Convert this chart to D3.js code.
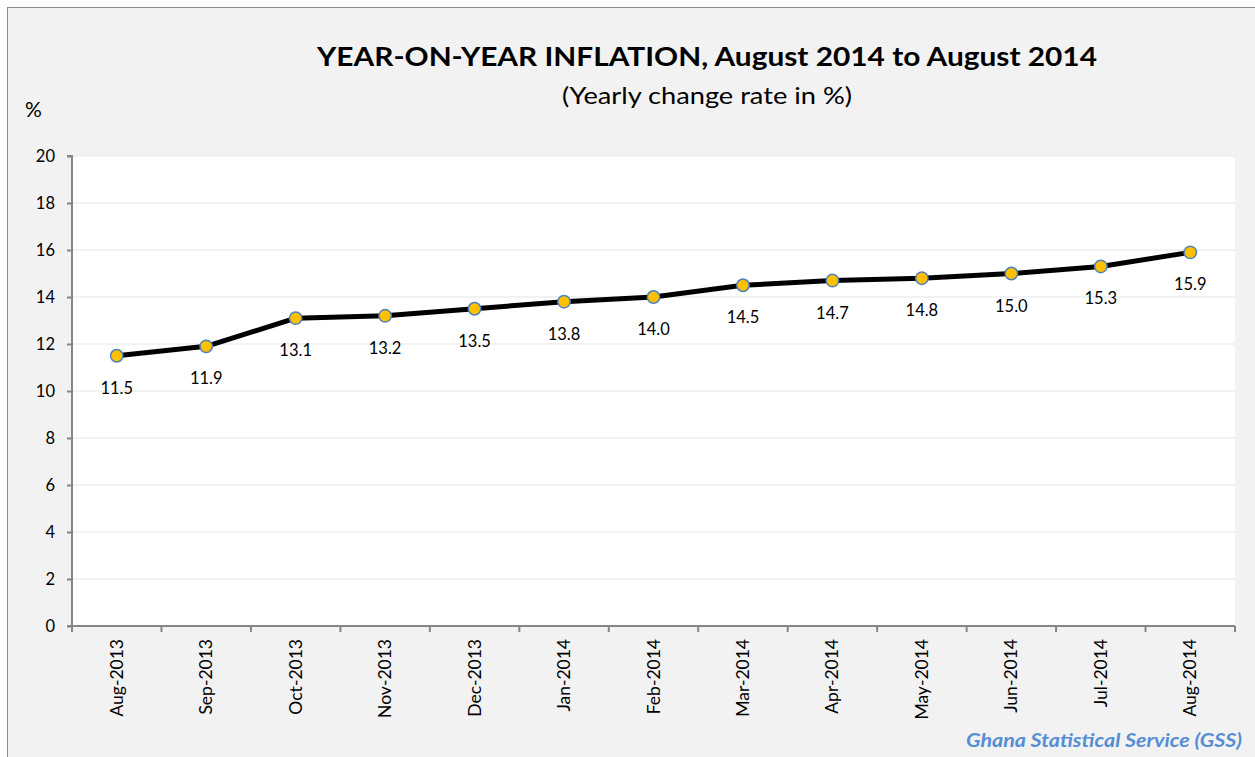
<!DOCTYPE html>
<html>
<head>
<meta charset="utf-8">
<script src="https://cdn.jsdelivr.net/npm/d3@7"></script>
<style>
    body { margin: 0; background: #ffffff; }
    svg text { font-family: Lato, "Open Sans", sans-serif; }
</style>
</head>
<body>
<svg id="chart" width="1255" height="757"></svg>
<script>
// Months on the x axis
let months = ["Aug-2013", "Sep-2013", "Oct-2013", "Nov-2013", "Dec-2013", "Jan-2014", "Feb-2014",
    "Mar-2014", "Apr-2014", "May-2014", "Jun-2014", "Jul-2014", "Aug-2014"];

// Year-on-year inflation, %
let inflation = [11.5, 11.9, 13.1, 13.2, 13.5, 13.8, 14.0, 14.5, 14.7, 14.8, 15.0, 15.3, 15.9];

// Y axis ticks
let yTicks = [0, 2, 4, 6, 8, 10, 12, 14, 16, 18, 20];

let titleText = "YEAR-ON-YEAR INFLATION, August 2014 to August 2014";
let subtitleText = "(Yearly change rate in %)";
let sourceText = "Ghana Statistical Service (GSS)";

let svg = d3.select("#chart");

// Chart area background and frame
svg.append("rect")
    .attr("x", 7.5).attr("y", 7.5)
    .attr("width", 1260).attr("height", 760)
    .attr("fill", "#f2f2f2")
    .attr("stroke", "#8c8c8c")
    .attr("stroke-width", 1);

let plot = { left: 72, top: 156, right: 1235, bottom: 626 };

let x = d3.scaleBand()
    .domain(months)
    .range([plot.left, plot.right]);

let y = d3.scaleLinear()
    .domain([0, 20])
    .range([plot.bottom, plot.top]);

// Plot area
svg.append("rect")
    .attr("x", plot.left).attr("y", plot.top)
    .attr("width", plot.right - plot.left)
    .attr("height", plot.bottom - plot.top)
    .attr("fill", "#ffffff");

// Grid lines
svg.append("g")
    .selectAll("line")
    .data(yTicks.filter(d => d > 0))
    .join("line")
    .attr("x1", plot.left).attr("x2", plot.right)
    .attr("y1", d => y(d)).attr("y2", d => y(d))
    .attr("stroke", "#eeeeee")
    .attr("stroke-width", 1.5);

// Y axis
let yAxis = svg.append("g")
    .attr("transform", "translate(" + plot.left + ",0)")
    .call(d3.axisLeft(y).tickValues(yTicks).tickSize(5).tickPadding(12));
yAxis.selectAll("path, line").attr("stroke", "#868686").attr("stroke-width", 2);
yAxis.select(".domain").attr("d", "M-5," + plot.top + "H0V" + plot.bottom);
yAxis.selectAll("text")
    .attr("font-size", 16.5)
    .attr("fill", "#000")
    .style("font-family", "Lato, sans-serif");

// X axis with ticks at band edges
let xAxis = svg.append("g")
    .attr("transform", "translate(0," + plot.bottom + ")");
xAxis.append("line")
    .attr("x1", plot.left - 5).attr("x2", plot.right)
    .attr("stroke", "#868686").attr("stroke-width", 2);
xAxis.selectAll("line.tick")
    .data(months.concat(["end"]))
    .join("line")
    .attr("class", "tick")
    .attr("x1", (d, i) => plot.left + i * x.step())
    .attr("x2", (d, i) => plot.left + i * x.step())
    .attr("y1", 0).attr("y2", 6)
    .attr("stroke", "#868686").attr("stroke-width", 2);
xAxis.selectAll("text")
    .data(months)
    .join("text")
    .attr("transform", d => "translate(" + (x(d) + x.bandwidth() / 2 + 6) + ",13) rotate(-90)")
    .attr("text-anchor", "end")
    .attr("font-size", 17.5)
    .attr("fill", "#000")
    .text(d => d);

// Line
let line = d3.line()
    .x((d, i) => x(months[i]) + x.bandwidth() / 2)
    .y(d => y(d));

svg.append("path")
    .datum(inflation)
    .attr("d", line)
    .attr("fill", "none")
    .attr("stroke", "#000")
    .attr("stroke-width", 5)
    .attr("stroke-linejoin", "round");

// Markers
svg.append("g")
    .selectAll("circle")
    .data(inflation)
    .join("circle")
    .attr("cx", (d, i) => x(months[i]) + x.bandwidth() / 2)
    .attr("cy", d => y(d))
    .attr("r", 6.2)
    .attr("fill", "#ffc000")
    .attr("stroke", "#4f81bd")
    .attr("stroke-width", 1.5);

// Data labels
svg.append("g")
    .selectAll("text")
    .data(inflation)
    .join("text")
    .attr("x", (d, i) => x(months[i]) + x.bandwidth() / 2)
    .attr("y", d => y(d) + 38)
    .attr("text-anchor", "middle")
    .attr("font-size", 16.5)
    .attr("fill", "#000")
    .text(d => d.toFixed(1));

// Titles
let title = svg.append("text")
    .attr("x", 707).attr("y", 66)
    .attr("text-anchor", "middle")
    .attr("font-size", 27)
    .attr("font-weight", "bold")
    .text(titleText);
// Fit to the width in the picture
title.attr("textLength", 780).attr("lengthAdjust", "spacingAndGlyphs");

svg.append("text")
    .attr("x", 707).attr("y", 104)
    .attr("text-anchor", "middle")
    .attr("font-size", 23)
    .attr("textLength", 290).attr("lengthAdjust", "spacingAndGlyphs")
    .text(subtitleText);

svg.append("text")
    .attr("x", 25).attr("y", 117)
    .attr("font-size", 21)
    .text("%");

svg.append("text")
    .attr("x", 1242).attr("y", 747)
    .attr("text-anchor", "end")
    .attr("font-size", 19)
    .attr("font-weight", "bold")
    .attr("font-style", "italic")
    .attr("fill", "#558ed5")
    .attr("textLength", 276).attr("lengthAdjust", "spacingAndGlyphs")
    .text(sourceText);
</script>
</body>
</html>
